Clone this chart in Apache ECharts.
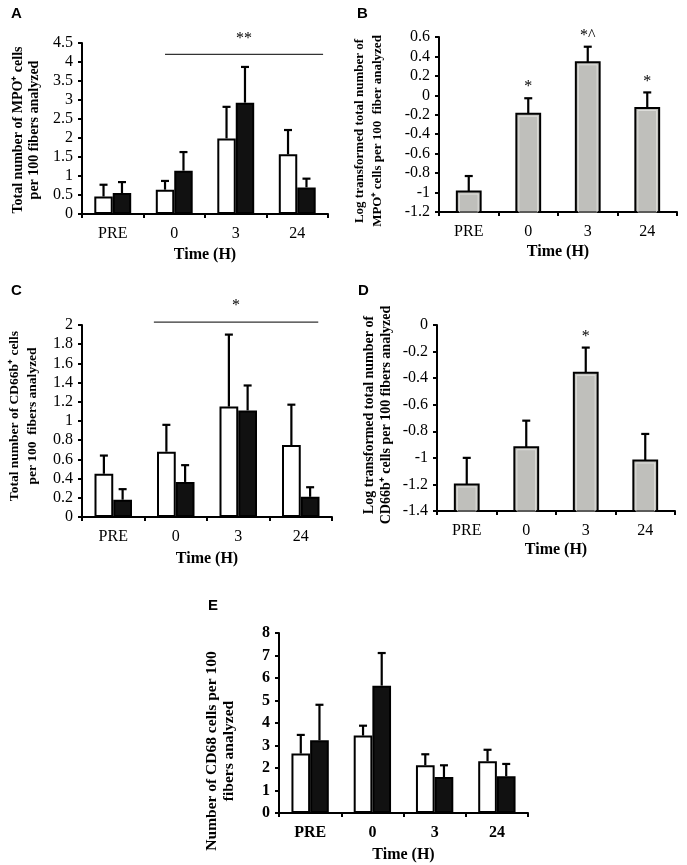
<!DOCTYPE html>
<html>
<head>
<meta charset="utf-8">
<title>MPO / CD66b / CD68</title>
<script src="https://cdn.jsdelivr.net/npm/echarts@6/dist/echarts.min.js"></script>
<style>
    html, body {margin: 0; padding: 0; background: #fff;}
    #main {width: 687px; height: 865px;}
</style>
</head>
<body>
<div id="main"></div>
<script>
/** 时间点 */
var categories = ['PRE', '0', '3', '24'];

/** A: MPO+ 细胞数 (白/黑) 及误差上限 */
var mpoWhite = [0.46, 0.64, 1.99, 1.57];
var mpoWhiteErr = [0.77, 0.87, 2.82, 2.21];
var mpoBlack = [0.55, 1.14, 2.93, 0.70];
var mpoBlackErr = [0.84, 1.63, 3.87, 0.93];

/** B: log 转换 MPO+ */
var mpoLog = [-0.99, -0.19, 0.34, -0.13];
var mpoLogErr = [-0.83, -0.03, 0.50, 0.03];
var mpoLogMarks = ['', '*', '*^', '*'];

/** C: CD66b+ 细胞数 */
var cd66White = [0.45, 0.68, 1.15, 0.75];
var cd66WhiteErr = [0.64, 0.96, 1.90, 1.17];
var cd66Black = [0.18, 0.365, 1.11, 0.21];
var cd66BlackErr = [0.29, 0.54, 1.37, 0.31];

/** D: log 转换 CD66b+ */
var cd66Log = [-1.20, -0.92, -0.36, -1.02];
var cd66LogErr = [-1.00, -0.72, -0.17, -0.82];
var cd66LogMarks = ['', '', '*', ''];

/** E: CD68 细胞数 */
var cd68White = [2.64, 3.44, 2.12, 2.30];
var cd68WhiteErr = [3.47, 3.88, 2.61, 2.81];
var cd68Black = [3.23, 5.66, 1.60, 1.63];
var cd68BlackErr = [4.81, 7.11, 2.12, 2.18];

/** 显著性横线: [起始类别, 结束类别, 数值, 标记] */
var sigA = ['0', '24', 4.2, '**'];
var sigC = ['0', '24', 2.03, '*'];

/** y 轴刻度 [min, max, interval] */
var ticksA = [0, 4.5, 0.5];
var ticksB = [-1.2, 0.6, 0.2];
var ticksC = [0, 2, 0.2];
var ticksD = [-1.4, 0, 0.2];
var ticksE = [0, 8, 1];

var SERIF = '"Liberation Serif", "Times New Roman", serif';
var SANS = '"Liberation Sans", Arial, sans-serif';

var myChart = echarts.init(document.getElementById('main'));

function fmt(v) {
    return String(+v.toFixed(1));
}

function makeX(gridIndex, bold, nameGap) {
    return {
        type: 'category',
        gridIndex: gridIndex,
        data: categories,
        name: 'Time (H)',
        nameLocation: 'middle',
        nameGap: nameGap,
        nameTextStyle: {fontFamily: SERIF, fontWeight: 'bold', fontSize: 16, color: '#000'},
        axisLine: {onZero: false, lineStyle: {color: '#000', width: 2}},
        axisTick: {show: true, length: 4, lineStyle: {color: '#000', width: 2}},
        axisLabel: {fontFamily: SERIF, fontSize: 16, color: '#000', margin: 12, fontWeight: bold ? 'bold' : 'normal'},
        splitLine: {show: false}
    };
}

function makeY(gridIndex, ticks, bold) {
    return {
        type: 'value',
        gridIndex: gridIndex,
        min: ticks[0],
        max: ticks[1],
        interval: ticks[2],
        axisLine: {show: true, onZero: false, lineStyle: {color: '#000', width: 2}},
        axisTick: {show: true, length: 4, lineStyle: {color: '#000', width: 2}},
        axisLabel: {fontFamily: SERIF, fontSize: 16, color: '#000', margin: 9, formatter: fmt,
            fontWeight: bold ? 'bold' : 'normal'},
        splitLine: {show: false}
    };
}

function bar(idx, values, fill) {
    return {
        type: 'bar',
        xAxisIndex: idx,
        yAxisIndex: idx,
        data: values,
        barGap: '0%',
        barCategoryGap: '40%',
        itemStyle: {color: fill, borderColor: '#000', borderWidth: 2},
        animation: false
    };
}

/** 从轴底部画起的灰色柱 */
function floorBar(idx, values, floor) {
    return {
        type: 'custom',
        xAxisIndex: idx,
        yAxisIndex: idx,
        data: values.map(function (v, i) { return [i, v]; }),
        encode: {x: 0, y: 1},
        animation: false,
        renderItem: function (params, api) {
            var bw = api.size([1, 0])[0];
            var top = api.coord([api.value(0), api.value(1)]);
            var base = api.coord([api.value(0), floor]);
            var w = bw * 0.4;
            return {
                type: 'group',
                children: [{
                    type: 'rect',
                    shape: {x: top[0] - w / 2, y: top[1], width: w, height: base[1] - top[1]},
                    style: {fill: '#bfbfbb', stroke: '#000', lineWidth: 2}
                }, {
                    type: 'rect',
                    shape: {x: top[0] - w / 2 + 2.5, y: top[1] + 2.5, width: w - 5, height: base[1] - top[1] - 2.5},
                    style: {fill: 'none', stroke: '#e6e6e2', lineWidth: 0.8}
                }]
            };
        }
    };
}

/** 误差线 (只向上), offset 为类别宽度的比例 */
function errBar(idx, tops, bases, offset, marks) {
    return {
        type: 'custom',
        xAxisIndex: idx,
        yAxisIndex: idx,
        z: 5,
        data: tops.map(function (t, i) { return [i, t, bases[i]]; }),
        encode: {x: 0, y: 1},
        animation: false,
        renderItem: function (params, api) {
            var bw = api.size([1, 0])[0];
            var p = api.coord([api.value(0), api.value(1)]);
            var b = api.coord([api.value(0), api.value(2)]);
            var x = p[0] + offset * bw;
            var children = [{
                type: 'line',
                shape: {x1: x, y1: b[1], x2: x, y2: p[1]},
                style: {stroke: '#000', lineWidth: 2.2}
            }, {
                type: 'line',
                shape: {x1: x - 4, y1: p[1], x2: x + 4, y2: p[1]},
                style: {stroke: '#000', lineWidth: 2.2}
            }];
            var mark = marks ? marks[params.dataIndex] : '';
            if (mark) {
                children.push({
                    type: 'text',
                    style: {x: x, y: p[1] - 3, text: mark, textAlign: 'center', textVerticalAlign: 'bottom',
                        font: '16px ' + SERIF, fill: '#000'}
                });
            }
            return {type: 'group', children: children};
        }
    };
}

/** 显著性横线 */
function sigLine(idx, sig, fromOff, toOff) {
    return {
        type: 'custom',
        xAxisIndex: idx,
        yAxisIndex: idx,
        data: [[categories.indexOf(sig[0]), categories.indexOf(sig[1]), sig[2]]],
        encode: {x: [0, 1], y: 2},
        animation: false,
        renderItem: function (params, api) {
            var bw = api.size([1, 0])[0];
            var p1 = api.coord([api.value(0), api.value(2)]);
            var p2 = api.coord([api.value(1), api.value(2)]);
            var x1 = p1[0] + fromOff * bw;
            var x2 = p2[0] + toOff * bw;
            return {
                type: 'group',
                children: [{
                    type: 'line',
                    shape: {x1: x1, y1: p1[1], x2: x2, y2: p1[1]},
                    style: {stroke: '#333', lineWidth: 1.2}
                }, {
                    type: 'text',
                    style: {x: (x1 + x2) / 2, y: p1[1] - 8, text: sig[3], textAlign: 'center',
                        textVerticalAlign: 'bottom', font: '16px ' + SERIF, fill: '#000'}
                }]
            };
        }
    };
}

function letter(text, x, y) {
    return {
        type: 'text', left: x, top: y,
        style: {text: text, font: 'bold 15px ' + SANS, fill: '#000'}
    };
}

function yTitle(text, cx, cy, size, lh) {
    return {
        type: 'text', x: cx, y: cy, rotation: Math.PI / 2,
        style: {text: text, font: 'bold ' + size + 'px ' + SERIF, fill: '#000',
            textAlign: 'center', textVerticalAlign: 'middle', lineHeight: lh}
    };
}

var option = {
    backgroundColor: '#fff',
    animation: false,
    grid: [
        {left: 82, top: 43, width: 246, height: 171},
        {left: 439, top: 37, width: 238, height: 175},
        {left: 82, top: 325, width: 250, height: 192},
        {left: 437, top: 325, width: 238, height: 186},
        {left: 279, top: 633, width: 249, height: 180}
    ],
    xAxis: [
        makeX(0, false, 33),
        makeX(1, false, 32),
        makeX(2, false, 34),
        makeX(3, false, 31),
        makeX(4, true, 34)
    ],
    yAxis: [
        makeY(0, ticksA, false),
        makeY(1, ticksB, false),
        makeY(2, ticksC, false),
        makeY(3, ticksD, false),
        makeY(4, ticksE, true)
    ],
    series: [
        bar(0, mpoWhite, '#fff'),
        bar(0, mpoBlack, '#111'),
        errBar(0, mpoWhiteErr, mpoWhite, -0.15),
        errBar(0, mpoBlackErr, mpoBlack, 0.15),
        sigLine(0, sigA, -0.15, 0.42),

        floorBar(1, mpoLog, ticksB[0]),
        errBar(1, mpoLogErr, mpoLog, 0, mpoLogMarks),

        bar(2, cd66White, '#fff'),
        bar(2, cd66Black, '#111'),
        errBar(2, cd66WhiteErr, cd66White, -0.15),
        errBar(2, cd66BlackErr, cd66Black, 0.15),
        sigLine(2, sigC, -0.35, 0.28),

        floorBar(3, cd66Log, ticksD[0]),
        errBar(3, cd66LogErr, cd66Log, 0, cd66LogMarks),

        bar(4, cd68White, '#fff'),
        bar(4, cd68Black, '#111'),
        errBar(4, cd68WhiteErr, cd68White, -0.15),
        errBar(4, cd68BlackErr, cd68Black, 0.15)
    ],
    graphic: [
        letter('A', 11, 6),
        letter('B', 357, 6),
        letter('C', 11, 283),
        letter('D', 358, 283),
        letter('E', 208, 598),
        yTitle('Total number of MPO\u207A cells\nper 100 fibers analyzed', 26, 130, 14, 16),
        yTitle('Log transformed total number of\nMPO\u207A cells per 100  fiber analyzed', 369, 131, 13, 18),
        yTitle('Total number of CD66b\u207A cells\nper 100  fibers analyzed', 24, 416, 13.5, 18),
        yTitle('Log transformed total number of\nCD66b\u207A cells per 100 fibers analyzed', 378, 415, 14, 17),
        yTitle('Number of CD68 cells per 100\nfibers analyzed', 220, 751, 15.5, 17)
    ]
};

myChart.setOption(option);
window.onresize = myChart.resize;
</script>
</body>
</html>
